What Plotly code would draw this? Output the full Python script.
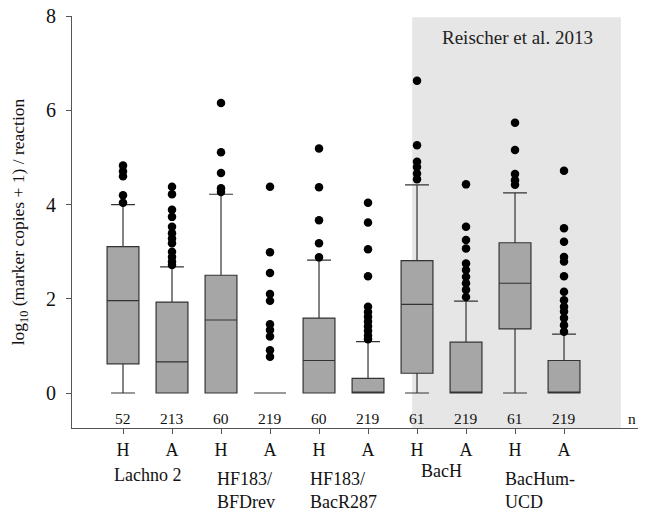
import plotly.graph_objects as go

positions = [1, 2, 3, 4, 5, 6, 7, 8, 9, 10]
tick_labels = ["H", "A", "H", "A", "H", "A", "H", "A", "H", "A"]
groups = ["Lachno 2", "HF183/<br>BFDrev", "HF183/<br>BacR287", "BacH", "BacHum-<br>UCD"]
n_counts = [52, 213, 60, 219, 60, 219, 61, 219, 61, 219]

q1 = [0.62, 0.0, 0.0, 0.0, 0.0, 0.0, 0.42, 0.0, 1.36, 0.0]
median = [1.96, 0.66, 1.55, 0.0, 0.69, 0.0, 1.88, 0.0, 2.33, 0.0]
q3 = [3.11, 1.93, 2.50, 0.0, 1.59, 0.31, 2.81, 1.08, 3.19, 0.69]
lower = [0.0, 0.0, 0.0, 0.0, 0.0, 0.0, 0.0, 0.0, 0.0, 0.0]
upper = [4.00, 2.68, 4.22, 0.0, 2.82, 1.09, 4.42, 1.95, 4.25, 1.25]

outliers = {
    1: [4.83, 4.71, 4.60, 4.20, 4.04],
    2: [4.38, 4.22, 3.89, 3.74, 3.53, 3.39, 3.28, 3.18, 3.00, 2.89, 2.79, 2.72],
    3: [6.16, 5.11, 4.67, 4.35, 4.27],
    4: [4.38, 2.99, 2.55, 2.10, 1.96, 1.46, 1.34, 1.20, 0.91, 0.77],
    5: [5.19, 4.37, 3.67, 3.18, 2.88],
    6: [4.04, 3.62, 3.05, 2.48, 1.83, 1.72, 1.62, 1.52, 1.42, 1.32, 1.22, 1.14],
    7: [6.63, 5.26, 4.91, 4.80, 4.66, 4.54],
    8: [4.43, 3.53, 3.25, 3.07, 2.75, 2.61, 2.47, 2.33, 2.19, 2.04],
    9: [5.74, 5.16, 4.65, 4.52, 4.42],
    10: [4.72, 3.50, 3.21, 2.89, 2.79, 2.48, 2.15, 1.97, 1.83, 1.73, 1.59, 1.44, 1.30],
}

FONT = "Liberation Serif"
Y0, Y1 = -0.743, 8.005

fig = go.Figure()

fig.add_trace(go.Box(
    x=positions, q1=q1, median=median, q3=q3,
    lowerfence=lower, upperfence=upper,
    width=0.65, whiskerwidth=0.75,
    fillcolor="#a6a6a6", line=dict(color="#333333", width=1.2),
    boxpoints=False, hoverinfo="skip", showlegend=False,
))

ox, oy = [], []
for k, vals in outliers.items():
    ox += [k] * len(vals)
    oy += vals
fig.add_trace(go.Scatter(
    x=ox, y=oy, mode="markers",
    marker=dict(color="black", size=8.5),
    hoverinfo="skip", showlegend=False,
))

# shaded region for Reischer et al. 2013
fig.add_shape(type="rect", xref="x", yref="y", x0=6.9, x1=11.16, y0=Y0, y1=7.98,
              fillcolor="#e6e6e6", line=dict(width=0), layer="below")

fig.add_annotation(x=(7 + 10) / 2 + 0.55, y=7.55, xref="x", yref="y",
                   text="Reischer et al. 2013", showarrow=False,
                   font=dict(family=FONT, size=19, color="#222"))

for p, n in zip(positions, n_counts):
    fig.add_annotation(x=p, y=-0.55, xref="x", yref="y", text=str(n), showarrow=False,
                       font=dict(family=FONT, size=15.5, color="#111"))
fig.add_annotation(x=11.38, y=-0.55, xref="x", yref="y", text="n", showarrow=False,
                   font=dict(family=FONT, size=15.5, color="#111"))

group_tops = [-0.085, -0.095, -0.095, -0.075, -0.095]
for i, (g, t) in enumerate(zip(groups, group_tops)):
    fig.add_annotation(x=2 * i + 1.5, y=t, xref="x", yref="paper", text=g,
                       showarrow=False, align="left", yanchor="top",
                       font=dict(family=FONT, size=18, color="#111"))

# page body has an 8px margin, so the figure is sized to fit the 646x508 window
fig.update_layout(
    width=638, height=500,
    margin=dict(l=64, r=0, t=8, b=80),
    plot_bgcolor="white", paper_bgcolor="white",
    font=dict(family=FONT, color="#111"),
    showlegend=False,
)
fig.update_xaxes(
    range=[-0.041, 11.673], tickmode="array", tickvals=positions, ticktext=tick_labels,
    ticks="outside", ticklen=5, tickcolor="#555", showline=True, linecolor="#555",
    linewidth=1, showgrid=False, zeroline=False, tickfont=dict(family=FONT, size=18),
    automargin=False, ticklabeloverflow="allow",
)
fig.update_yaxes(
    range=[Y0, Y1], tickmode="array", tickvals=[0, 2, 4, 6, 8],
    ticks="outside", ticklen=5, tickcolor="#555", showline=True, linecolor="#555",
    linewidth=1, showgrid=False, zeroline=False, tickfont=dict(family=FONT, size=20),
    ticklabelstandoff=6, automargin=False, ticklabeloverflow="allow",
    title=dict(text="log<sub>10</sub> (marker copies + 1) / reaction",
               font=dict(family=FONT, size=17.5), standoff=18),
)

fig.write_html("out.html")
